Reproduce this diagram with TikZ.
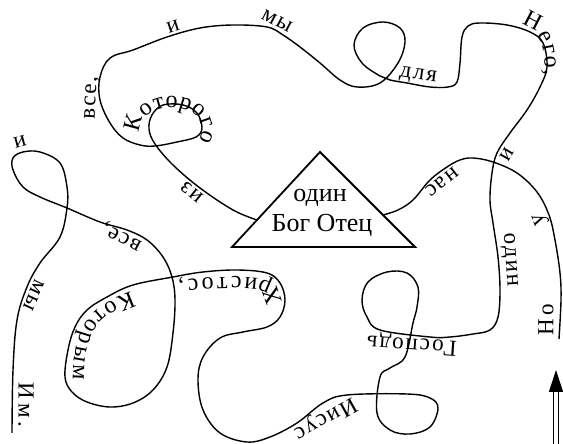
\documentclass[tikz,border=0pt]{standalone}
\usepackage{fontspec}
\setmainfont{Liberation Serif}
\usetikzlibrary{arrows.meta,decorations.text}
\newcommand{\wordfont}{\fontsize{23}{23}\selectfont\addfontfeature{LetterSpace=8}}
\newcommand{\bendfont}{\fontsize{24}{24}\selectfont}
\newcommand{\godfont}{\fontsize{26}{26}\selectfont}

\begin{document}
\begin{tikzpicture}[
  x=1pt, y=1pt,
  strand/.style={line width=1.4pt},
  word/.style={font=\wordfont, inner sep=0pt},
  onpath/.style={
    decorate,
    decoration={text along path, text align=fit to path, text={|\bendfont|#1}}
  },
  arrow/.style={line width=1.2pt, double, double distance=3.2pt,
    -{Triangle[length=22pt,width=14pt]}}
]
  \useasboundingbox (0,0) rectangle (563,444);

  % triangle
  \coordinate (top) at (320,292);
  \coordinate (bl) at (232,197);
  \coordinate (br) at (415,197);
  \draw[line width=1.8pt, line join=miter] (top) -- (bl) -- (br) -- cycle;
  \node[font=\godfont, inner sep=0pt] (one) at (320,246) {один};
  \node[font=\godfont, inner sep=0pt] (father) at (322,219) {Бог Отец};

  % right strand, from the start to the triangle
  \draw[strand] plot[smooth, tension=0.6] coordinates {
    (559,105) (561,144) (560,171) (555,204) (549,229) (537,252) (517,271)
    (493,282) (473,286) (460,284) (447,277) (430,264) (413,244) (398,234)
    (383,229)};

  % long strand, from the triangle to the end
  \draw[strand] plot[smooth, tension=0.6] coordinates {
    (257,224) (233,234) (200,256) (173,279) (155,300) (149,315) (152,329)
    (163,339) (183,339) (197,331) (202,316) (196,307) (177,302) (155,298)
    (140,299) (123,306) (110,321) (100,344) (100,367) (110,386) (133,394)
    (167,407) (200,416) (233,419) (267,417) (283,409) (300,397) (320,381)
    (340,364) (357,357) (380,361) (398,381) (405,402) (400,416) (383,422)
    (363,416) (354,399) (362,381) (380,368) (390,364) (407,361) (430,357)
    (448,357) (457,362) (460,381) (462,407) (468,418) (480,421) (507,419)
    (530,412) (543,401) (547,377) (540,357) (527,334) (510,311) (497,291)
    (492,271) (490,244) (493,221) (498,187) (500,154) (498,127) (490,114)
    (473,110) (450,107) (430,107) (380,114) (367,127) (362,144) (368,162)
    (387,172) (407,171) (418,157) (417,137) (413,121) (405,87) (390,76)
    (380,67) (377,31) (390,14) (410,10) (430,17) (438,36) (430,46) (407,50)
    (347,49) (323,41) (297,21) (270,7) (247,2) (220,11) (203,34) (198,64)
    (203,87) (220,106) (243,112) (267,117) (280,127) (285,144) (280,161)
    (267,171) (237,174) (203,172) (173,167) (133,159) (107,147) (87,134)
    (75,117) (68,94) (65,67) (72,52) (87,42) (110,37) (133,41) (153,54)
    (167,77) (173,111) (175,144) (172,167) (163,187) (147,204) (127,214)
    (100,222) (67,236) (40,247) (23,257) (13,274) (13,286) (23,292) (40,292)
    (60,281) (67,257) (67,236) (60,207) (40,181) (27,157) (17,124) (13,74)
    (12,11)};

  % words on the strand
  \node[word, rotate=90] (no) at (546,124) {Н\,о};
  \node[word, rotate=110] (u) at (541,225) {у};
  \node[word, rotate=218] (nas) at (442,262) {нас};
  \node[word, rotate=141] (iz) at (192,252) {из};
  \path[onpath={Которого}] (141,311) arc[start angle=190, end angle=-30, x radius=31, y radius=22];
  \node[word, rotate=87] (vse) at (92,346) {все,};
  \node[word, rotate=18] (and) at (173,417) {и};
  \node[word, rotate=-28] (we) at (277,423) {мы};
  \node[word, rotate=-8] (for) at (418,368) {для};
  \path[onpath={Него,}] (521,419) .. controls (537,416) and (545,405) .. (545,368);
  \node[word, rotate=240] (and2) at (507,290) {и};
  \node[word, rotate=274] (one2) at (509,184) {один};
  \node[word, rotate=176] (lord) at (412,100) {Господь};
  \node[word, rotate=209] (jesus) at (325,26) {Иисус};
  \path[onpath={Христос,}] (281,142) .. controls (280,163) and (262,167) .. (240,167)
    .. controls (215,167) and (195,166) .. (178,163);
  \path[onpath={Которым}] (131,152) .. controls (108,144) and (87,131) .. (80,110)
    .. controls (75,95) and (73,80) .. (73,64);
  \node[word, rotate=152] (vse2) at (122,208) {все,};
  \node[word, rotate=15] (and3) at (20,302) {и};
  \node[word, rotate=245] (we2) at (34,149) {мы};
  \node[word, rotate=270] (him) at (26,39) {И\,м\,.};

  % arrow at the start
  \coordinate (arr-b) at (556,-2);
  \coordinate (arr-t) at (556,74);
  \draw[arrow] (arr-b) -- (arr-t);
\end{tikzpicture}
\end{document}
